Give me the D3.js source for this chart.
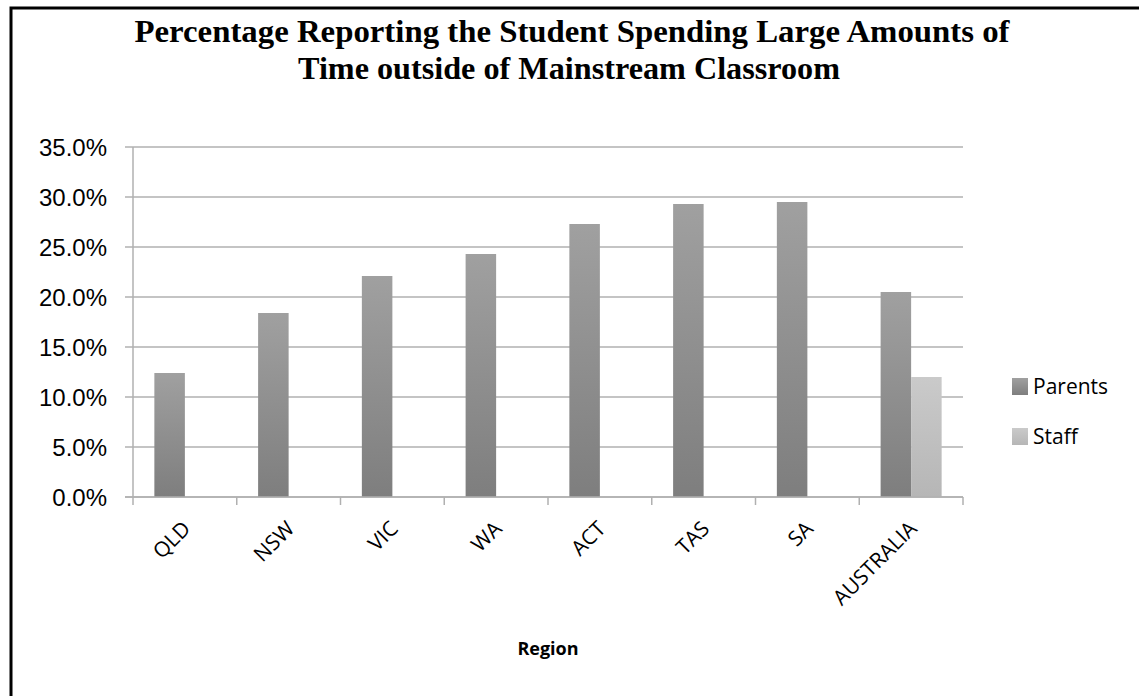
<!DOCTYPE html>
<html><head><meta charset="utf-8">
<script src="https://cdn.jsdelivr.net/npm/d3@7"></script>
<style>body{margin:0;background:#fff}svg{display:block}</style>
</head><body>
<svg id="c" width="1139" height="696"></svg>
<script>
const categories = ["QLD","NSW","VIC","WA","ACT","TAS","SA","AUSTRALIA"];
const parents = [0.124,0.184,0.221,0.243,0.273,0.293,0.295,0.205];
const staff = [null,null,null,null,null,null,null,0.120];
const seriesNames = ["Parents","Staff"];
const yTicks = [0,0.05,0.10,0.15,0.20,0.25,0.30,0.35];
const titleLines = ["Percentage Reporting the Student Spending Large Amounts of","Time outside of Mainstream Classroom"];
const xTitle = "Region";

const svg = d3.select("#c");
const defs = svg.append("defs");
function grad(id, top, bot){
  const g = defs.append("linearGradient").attr("id",id).attr("x1",0).attr("y1",0).attr("x2",0).attr("y2",1);
  g.append("stop").attr("offset","0%").attr("stop-color",top);
  g.append("stop").attr("offset","100%").attr("stop-color",bot);
}
grad("gP","#a0a0a0","#7e7e7e");
grad("gS","#cacaca","#b6b6b6");
const fills = ["url(#gP)","url(#gS)"];

// frame
svg.append("rect").attr("x",11).attr("y",8).attr("width",1300).attr("height",900)
  .attr("fill","none").attr("stroke","#000").attr("stroke-width",3);

const L=133, R=963, T=147, B=497;
const x = d3.scaleBand().domain(categories).range([L,R]);
const y = d3.scaleLinear().domain([0,0.35]).range([B,T]);
const inner = d3.scaleBand().domain(seriesNames).range([0,x.bandwidth()]).paddingInner(0).paddingOuter(0.7);

// gridlines
svg.append("g").selectAll("line").data(yTicks).join("line")
  .attr("x1",L-8).attr("x2",R).attr("y1",d=>y(d)).attr("y2",d=>y(d))
  .attr("stroke","#b0b0b0").attr("stroke-width",1.5);

// y axis line
svg.append("line").attr("x1",L).attr("x2",L).attr("y1",T).attr("y2",B)
  .attr("stroke","#b0b0b0").attr("stroke-width",1.5);

// y labels
svg.append("g").selectAll("text").data(yTicks).join("text")
  .attr("x",107).attr("y",d=>y(d)+9)
  .attr("text-anchor","end")
  .style("font-family","'Liberation Sans', Arial, sans-serif").style("font-size","24px").attr("fill","#000")
  .text(d=>d3.format(".1%")(d));

// x category ticks
const bounds = categories.map(c=>x(c)).concat([R]);
svg.append("g").selectAll("line").data(bounds).join("line")
  .attr("x1",d=>d).attr("x2",d=>d).attr("y1",B).attr("y2",B+8)
  .attr("stroke","#b0b0b0").attr("stroke-width",1.5);

// bars
const data = [];
categories.forEach((c,i)=>{
  data.push({c, s:"Parents", v:parents[i], k:0});
  if(staff[i]!=null) data.push({c, s:"Staff", v:staff[i], k:1});
});
svg.append("g").selectAll("rect").data(data).join("rect")
  .attr("x",d=>x(d.c)+inner(d.s))
  .attr("width",inner.bandwidth())
  .attr("y",d=>y(d.v))
  .attr("height",d=>B-y(d.v))
  .attr("fill",d=>fills[d.k]);

// x axis line on top
svg.append("line").attr("x1",L-8).attr("x2",R).attr("y1",B).attr("y2",B)
  .attr("stroke","#b0b0b0").attr("stroke-width",1.5);

// x labels
svg.append("g").selectAll("text").data(categories).join("text")
  .attr("text-anchor","end")
  .attr("transform",d=>`translate(${x(d)+x.bandwidth()/2+7},${B+33}) rotate(-45)`)
  .style("font-family","'Open Sans', sans-serif").style("font-size","21px").attr("fill","#000")
  .text(d=>d);

// x title
svg.append("text").attr("x",548).attr("y",655).attr("text-anchor","middle")
  .style("font-family","'Open Sans', sans-serif").style("font-weight","bold").style("font-size","18px")
  .text(xTitle);

// title
const tw = [875, 542];
const tcx = [572, 569];
const tby = [42, 79];
titleLines.forEach((t,i)=>{
  svg.append("text").attr("x",tcx[i]).attr("y",tby[i]).attr("text-anchor","middle")
    .style("font-family","'Liberation Serif', 'Times New Roman', serif").style("font-weight","bold").style("font-size","32px")
    .attr("textLength",tw[i]).attr("lengthAdjust","spacingAndGlyphs")
    .text(t);
});

// legend
const lg = svg.append("g");
seriesNames.forEach((s,i)=>{
  lg.append("rect").attr("x",1012).attr("y",378+i*50).attr("width",16).attr("height",17).attr("fill",fills[i]);
  lg.append("text").attr("x",1033).attr("y",394+i*50)
    .style("font-family","'Open Sans', sans-serif").style("font-size","21px").text(s);
});
</script>
</body></html>
